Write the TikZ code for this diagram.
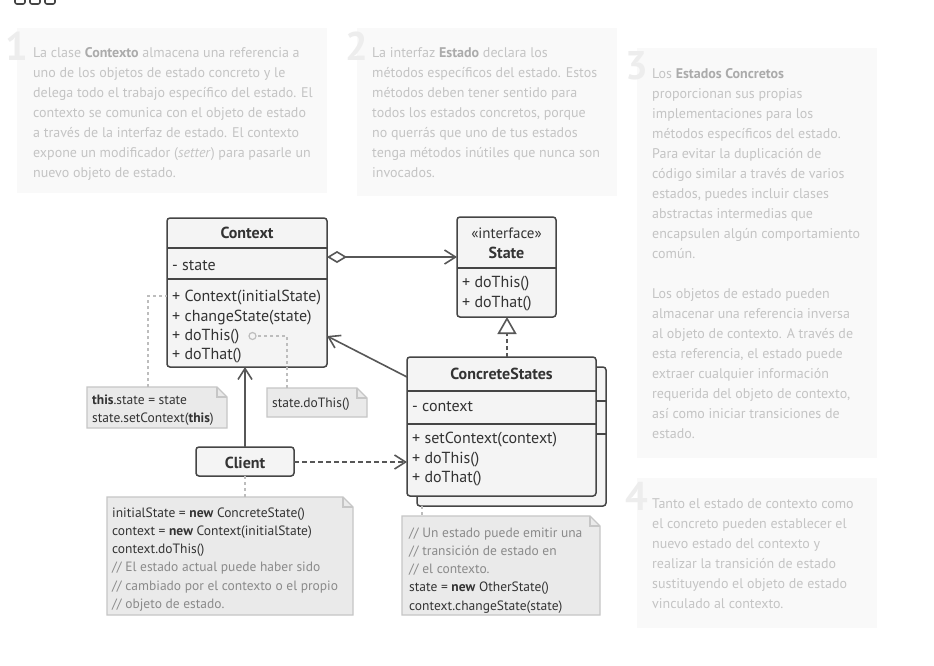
\documentclass[tikz,border=0pt]{standalone}
\usepackage{fontspec}
\setmainfont{PT Sans}
\usetikzlibrary{arrows.meta}
\definecolor{panelbg}{HTML}{F9F9F9}
\definecolor{paneltext}{HTML}{C4C4C4}
\definecolor{panelbold}{HTML}{ABABAB}
\definecolor{numcol}{HTML}{EDEDED}
\definecolor{boxfill}{HTML}{F4F4F4}
\definecolor{boxline}{HTML}{454545}
\definecolor{txt}{HTML}{333333}
\definecolor{notefill}{HTML}{EAEAEA}
\definecolor{noteline}{HTML}{C6C6C6}
\definecolor{dashcol}{HTML}{BDBDBD}
\definecolor{commentcol}{HTML}{8A8A8A}
\definecolor{arrowcol}{HTML}{575757}
\tikzset{
  panel/.style={fill=panelbg, draw=none},
  bignum/.style={anchor=base east, inner sep=0pt, text=numcol, font=\fontsize{40}{40}\selectfont\bfseries},
  ptext/.style={anchor=north west, inner sep=0pt, text=paneltext, align=left, font=\fontsize{14}{20}\selectfont},
  classbox/.style={draw=boxline, fill=boxfill, line width=1.5pt, rounded corners=3pt},
  divider/.style={draw=boxline, line width=1.5pt},
  ctitle/.style={inner sep=0pt, text=txt, font=\fontsize{16}{18}\selectfont\bfseries},
  cline/.style={anchor=north west, inner sep=0pt, text=txt, align=left, font=\fontsize{16}{19.4}\selectfont},
  notebox/.style={fill=notefill, draw=noteline, line width=1.2pt},
  ntext/.style={anchor=north west, inner sep=0pt, text=txt, align=left, font=\fontsize{13.5}{18.2}\selectfont},
  notelink/.style={draw=dashcol, line width=1.2pt, dash pattern=on 3pt off 3pt},
  conn/.style={draw=arrowcol, line width=1.6pt},
  openarrow/.style={-{Straight Barb[length=11pt,width=14pt,line width=1.6pt]}},
}
\newcommand{\cmt}[1]{\textcolor{commentcol}{#1}}
\begin{document}
\begin{tikzpicture}[x=1pt,y=-1pt]
\useasboundingbox (0,0) rectangle (934,665);
\fill[white] (0,0) rectangle (934,665);
% top-left window dots
\foreach \i in {0,1,2}{
  \draw[boxline, line width=1.6pt, rounded corners=2pt] (15+15*\i,-8) rectangle (25+15*\i,4);
}
% panels
\path[panel] (17,28) rectangle (327,193);
\path[panel] (357,28) rectangle (617,196);
\path[panel] (637,48) rectangle (877,458);
\path[panel] (637,478) rectangle (877,628);
\node[bignum] (n1) at (28,60) {1};
\node[bignum] (n2) at (368,60) {2};
\node[bignum] (n3) at (648,79) {3};
\node[bignum] (n4) at (648,510) {4};
\node[ptext] (p1) at (33,47) {La clase \textcolor{panelbold}{\bfseries Contexto} almacena una referencia a\\
uno de los objetos de estado concreto y le\\
delega todo el trabajo específico del estado. El\\
contexto se comunica con el objeto de estado\\
a través de la interfaz de estado. El contexto\\
expone un modificador (\emph{setter}) para pasarle un\\
nuevo objeto de estado.};
\node[ptext] (p2) at (372,47) {La interfaz \textcolor{panelbold}{\bfseries Estado} declara los\\
métodos específicos del estado. Estos\\
métodos deben tener sentido para\\
todos los estados concretos, porque\\
no querrás que uno de tus estados\\
tenga métodos inútiles que nunca son\\
invocados.};
\node[ptext] (p3) at (652,68) {Los \textcolor{panelbold}{\bfseries Estados Concretos}\\
proporcionan sus propias\\
implementaciones para los\\
métodos específicos del estado.\\
Para evitar la duplicación de\\
código similar a través de varios\\
estados, puedes incluir clases\\
abstractas intermedias que\\
encapsulen algún comportamiento\\
común.\\[20pt]
Los objetos de estado pueden\\
almacenar una referencia inversa\\
al objeto de contexto. A través de\\
esta referencia, el estado puede\\
extraer cualquier información\\
requerida del objeto de contexto,\\
así como iniciar transiciones de\\
estado.};
\node[ptext] (p4) at (652,498) {Tanto el estado de contexto como\\
el concreto pueden establecer el\\
nuevo estado del contexto y\\
realizar la transición de estado\\
sustituyendo el objeto de estado\\
vinculado al contexto.};

% ---------- notes (behind) ----------
\path[notebox] (87,387) -- (217,387) -- (227,397) -- (227,428) -- (87,428) -- cycle;
\draw[noteline, line width=1.2pt] (217,387) -- (217,397) -- (227,397);
\node[ntext] (note1) at (92,394.5) {\textbf{this}.state = state\\state.setContext(\textbf{this})};
\path[notebox] (267,388) -- (357,388) -- (367,398) -- (367,417) -- (267,417) -- cycle;
\draw[noteline, line width=1.2pt] (357,388) -- (357,398) -- (367,398);
\node[ntext] (note2) at (272,397.5) {state.doThis()};
\path[notebox] (107,497) -- (343,497) -- (353,507) -- (353,615) -- (107,615) -- cycle;
\draw[noteline, line width=1.2pt] (343,497) -- (343,507) -- (353,507);
\node[ntext] (note3) at (112,507.5) {initialState = \textbf{new} ConcreteState()\\
context = \textbf{new} Context(initialState)\\
context.doThis()\\
\cmt{// El estado actual puede haber sido}\\
\cmt{// cambiado por el contexto o el propio}\\
\cmt{// objeto de estado.}};
\path[notebox] (402,516) -- (590,516) -- (600,526) -- (600,615) -- (402,615) -- cycle;
\draw[noteline, line width=1.2pt] (590,516) -- (590,526) -- (600,526);
\node[ntext] (note4) at (409,527.5) {\cmt{// Un estado puede emitir una}\\
\cmt{// transición de estado en}\\
\cmt{// el contexto.}\\
state = \textbf{new} OtherState()\\
context.changeState(state)};

% ---------- Context ----------
\path[classbox] (167,218) rectangle (327,367);
\node[inner sep=0pt] (ctx) at (247,292.5) {};
\draw[divider] (167,248) -- (327,248);
\draw[divider] (167,279) -- (327,279);
\node[ctitle] (ctxt) at (247,233) {Context};
\node[cline] (ctxa) at (172,260) {- state};
\node[cline] (ctxm) at (172,290) {+ Context(initialState)\\+ changeState(state)\\+ doThis()\\+ doThat()};

% ---------- State ----------
\path[classbox] (457,217) rectangle (556,317);
\draw[divider] (457,268) -- (556,268);
\node[inner sep=0pt, text=txt, font=\fontsize{15}{17}\selectfont] (sti) at (506.5,233) {«interface»};
\node[ctitle] (stt) at (506.5,253) {State};
\node[cline] (stm) at (462,276) {+ doThis()\\+ doThat()};

% ---------- ConcreteStates ----------
\path[classbox] (417,367) rectangle (606,506);
\draw[divider] (596,401) -- (606,401);
\draw[divider] (596,434) -- (606,434);
\path[classbox] (407,357) rectangle (596,496);
\draw[divider] (407,391) -- (596,391);
\draw[divider] (407,424) -- (596,424);
\node[ctitle] (cst) at (501.5,374) {ConcreteStates};
\node[cline] (csa) at (412,401) {- context};
\node[cline] (csm) at (412,432) {+ setContext(context)\\+ doThis()\\+ doThat()};

% ---------- Client ----------
\node[classbox, minimum width=98pt, minimum height=29pt, inner sep=0pt] (client) at (245,461.5) {};
\node[ctitle] (clientt) at (245,463) {Client};

% ---------- coordinates ----------
\coordinate (aggS) at (327,257);
\coordinate (aggE) at (457,257);
\coordinate (realS) at (507,357);
\coordinate (realE) at (507,317);
\coordinate (assS) at (407,377);
\coordinate (assE) at (327,336);
\coordinate (cliTop) at (245,447);
\coordinate (ctxBot) at (245,367);
\coordinate (cliR) at (294,462);
\coordinate (csL) at (407,462);
\coordinate (n1top) at (148,387);
\coordinate (n1a) at (148,296);
\coordinate (n1b) at (167,296);
\coordinate (n2top) at (287,388);
\coordinate (n2a) at (287,336);
\coordinate (dotc) at (256,336);
\coordinate (cliBot) at (245,476);
\coordinate (n3top) at (245,497);
\coordinate (csBot) at (422,506);
\coordinate (n4top) at (422,516);

% ---------- connectors ----------
\draw[conn, {Diamond[open,length=20pt,width=12pt,line width=1.6pt,fill=white]}-{Straight Barb[length=11pt,width=14pt,line width=1.6pt]}] (aggS) -- (aggE);
\draw[conn, dash pattern=on 4pt off 3pt, -{Triangle[open,length=17pt,width=19pt,line width=1.6pt,fill=white]}] (realS) -- (realE);
\draw[conn, openarrow] (assS) -- (assE);
\draw[conn, openarrow] (cliTop) -- (ctxBot);
\draw[conn, openarrow, dash pattern=on 5pt off 3pt] (cliR) -- (csL);

\draw[notelink] (n1top) -- (n1a) -- (n1b);
\draw[notelink] (n2top) -- (n2a) -- (dotc);
\draw[dashcol, line width=1.2pt, fill=boxfill] (dotc) ++(-3.5,0) circle[radius=3.5pt];
\draw[notelink] (cliBot) -- (n3top);
\draw[notelink] (csBot) -- (n4top);
\end{tikzpicture}
\end{document}
